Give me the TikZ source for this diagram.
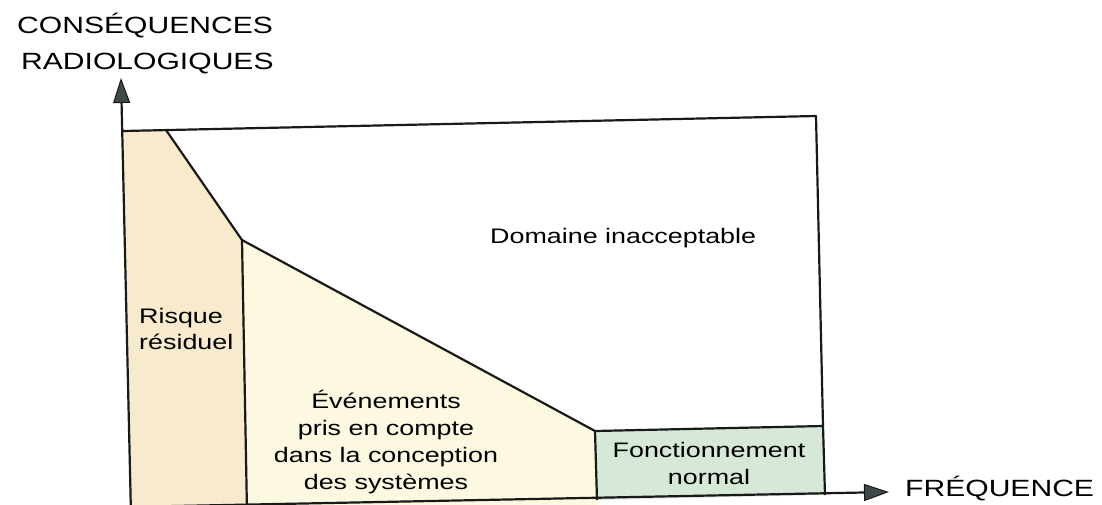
\documentclass[tikz,border=0pt]{standalone}
\usepackage{fontspec}
\setmainfont{Liberation Sans}[FakeStretch=1.28]
\usetikzlibrary{arrows.meta}
\definecolor{residu}{HTML}{F7EACD}
\definecolor{evt}{HTML}{FDF9E1}
\definecolor{normcol}{HTML}{D6E9D9}
\definecolor{tipgray}{HTML}{3E4A4A}
\tikzset{
  edge/.style={draw=black!90, line width=2.2pt, line join=round},
  axisline/.style={draw=black!90, line width=2.2pt, -{Triangle[length=25pt,width=17pt,fill=tipgray,line width=1pt]}},
  txt/.style={inner sep=0pt, anchor=base west, font=\fontsize{21}{26}\selectfont, text=black},
  ctxt/.style={inner sep=0pt, anchor=base, font=\fontsize{21}{26}\selectfont, text=black},
  axtxt/.style={inner sep=0pt, anchor=base west, font=\fontsize{23.5}{28}\selectfont, text=black}
}
\begin{document}
\begin{tikzpicture}[x=1pt,y=-1pt]
\useasboundingbox (0,0) rectangle (1102,504);
\begin{scope}
\clip (0,0) rectangle (1102,504);
% key points
\coordinate (TL) at (123,131);
\coordinate (D1) at (166,130);
\coordinate (TR) at (816,116);
\coordinate (K) at (242,240);
\coordinate (KB) at (247,512);
\coordinate (LB) at (131,512);
\coordinate (G) at (595,431);
\coordinate (GR) at (823,426);
\coordinate (GBR) at (825,495);
\coordinate (GBL) at (597,500);
\coordinate (MB) at (597,512);
\coordinate (YB) at (131,515);
\coordinate (YT) at (121,78);
\coordinate (XL) at (125,507);
\coordinate (XT) at (889,492);
% fills
\fill[residu] (TL) -- (D1) -- (K) -- (KB) -- (LB) -- cycle;
\fill[evt] (K) -- (G) -- (MB) -- (KB) -- cycle;
\fill[normcol] (G) -- (GR) -- (GBR) -- (GBL) -- cycle;
% outline
\draw[edge] (TL) -- (TR) -- (GR);
\draw[edge] (D1) -- (K) -- (KB);
\draw[edge] (K) -- (G) -- (GR);
\draw[edge] (G) -- (GBL);
\draw[edge] (GR) -- (GBR);
% axes
\draw[axisline] (YB) -- (YT);
\draw[axisline] (XL) -- (XT);
\end{scope}
% labels
\node[axtxt] (c1) at (17,33) {CONSÉQUENCES};
\node[axtxt] (c2) at (21,69) {RADIOLOGIQUES};
\node[axtxt] (fq) at (905,496) {FRÉQUENCE};
\node[txt] (dom) at (490,243) {Domaine inacceptable};
\node[txt] (r1) at (139,323) {Risque};
\node[txt] (r2) at (139,349) {résiduel};
\node[ctxt] (e1) at (386,408) {Événements};
\node[ctxt] (e2) at (386,435) {pris en compte};
\node[ctxt] (e3) at (386,462) {dans la conception};
\node[ctxt] (e4) at (386,489) {des systèmes};
\node[ctxt] (f1) at (709,457) {Fonctionnement};
\node[ctxt] (f2) at (709,484) {normal};
\end{tikzpicture}
\end{document}
